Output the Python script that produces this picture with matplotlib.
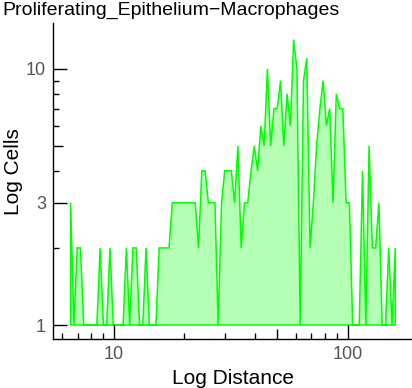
import numpy as np
import matplotlib.pyplot as plt
from matplotlib.ticker import NullFormatter

plt.rcParams['font.family'] = ['Liberation Sans', 'DejaVu Sans']

# distance bins: log spaced between first and last bin centre
d_first, d_last, n_bins = 6.52, 160.0, 100
distance = np.geomspace(d_first, d_last, n_bins)

# cells per bin
cells = [3, 1, 2, 2, 1, 1, 1, 1, 1, 2,
         1, 1, 2, 1, 1, 1, 1, 2, 1, 2,
         2, 1, 1, 2, 1, 1, 1, 2, 2, 2,
         2, 3, 3, 3, 3, 3, 3, 3, 3, 2,
         4, 4, 3, 3, 3, 1, 3, 4, 4, 4,
         3, 5, 2, 3, 3, 4, 5, 4, 6, 5,
         10, 5, 7, 7, 9, 5, 8, 6, 13, 10,
         1, 9, 11, 2, 3, 5, 7, 9, 6, 7,
         3, 8, 7, 7, 3, 3, 1, 1, 1, 4,
         1, 5, 2, 2, 3, 1, 1, 2, 1, 2]

x_major = [10, 50, 100]
x_major_labels = ['10', '', '100']
x_minor = [6, 7, 8, 9, 20, 30, 40, 60, 70, 80, 90]
y_major = [1, 3, 5, 10]
y_major_labels = ['1', '3', '', '10']
y_minor = [2, 4, 6, 7, 8, 9]

title = 'Proliferating_Epithelium\u2212Macrophages'

fig = plt.figure(figsize=(4.12, 3.88), dpi=100)
ax = fig.add_axes([53 / 412, 49 / 388, 1 - 53 / 412, (339 - 23) / 388])

# closed polygon: curve plus baseline at 1
px = np.concatenate([distance, [distance[-1], distance[0]]])
py = np.concatenate([cells, [1, 1]])
ax.fill(px, py, facecolor='#b5ffb5', edgecolor='#00ff00', linewidth=1.1, closed=True)

ax.set_xscale('log')
ax.set_yscale('log')
ax.set_xlim(5.48, 188.6)
ax.set_ylim(0.882, 15.1)

for s in ['top', 'right']:
    ax.spines[s].set_visible(False)
for s in ['left', 'bottom']:
    ax.spines[s].set_linewidth(1.0)

ax.set_xticks(x_major, labels=x_major_labels)
ax.set_xticks(x_minor, minor=True)
ax.set_yticks(y_major, labels=y_major_labels)
ax.set_yticks(y_minor, minor=True)
ax.xaxis.set_minor_formatter(NullFormatter())
ax.yaxis.set_minor_formatter(NullFormatter())

ax.tick_params(which='major', direction='in', length=10, width=1,
               labelsize=13, labelcolor='#555555')
ax.tick_params(axis='x', which='major', pad=5)
ax.tick_params(axis='y', which='major', pad=5)
ax.tick_params(which='minor', direction='in', length=4, width=1)

# the 5 and 50 ticks are a bit shorter than the labelled ones
ax.xaxis.get_major_ticks()[1].tick1line.set_markersize(7)
ax.yaxis.get_major_ticks()[2].tick1line.set_markersize(7)

ax.set_xlabel('Log Distance', fontsize=15, labelpad=4)
ax.set_ylabel('Log Cells', fontsize=15)
ax.yaxis.set_label_coords((23 - 53) / 359, 0.53)

fig.text(2 / 412, 1 - 15 / 388, title, fontsize=14, ha='left', va='baseline')

fig.savefig('out.png', dpi=100)
